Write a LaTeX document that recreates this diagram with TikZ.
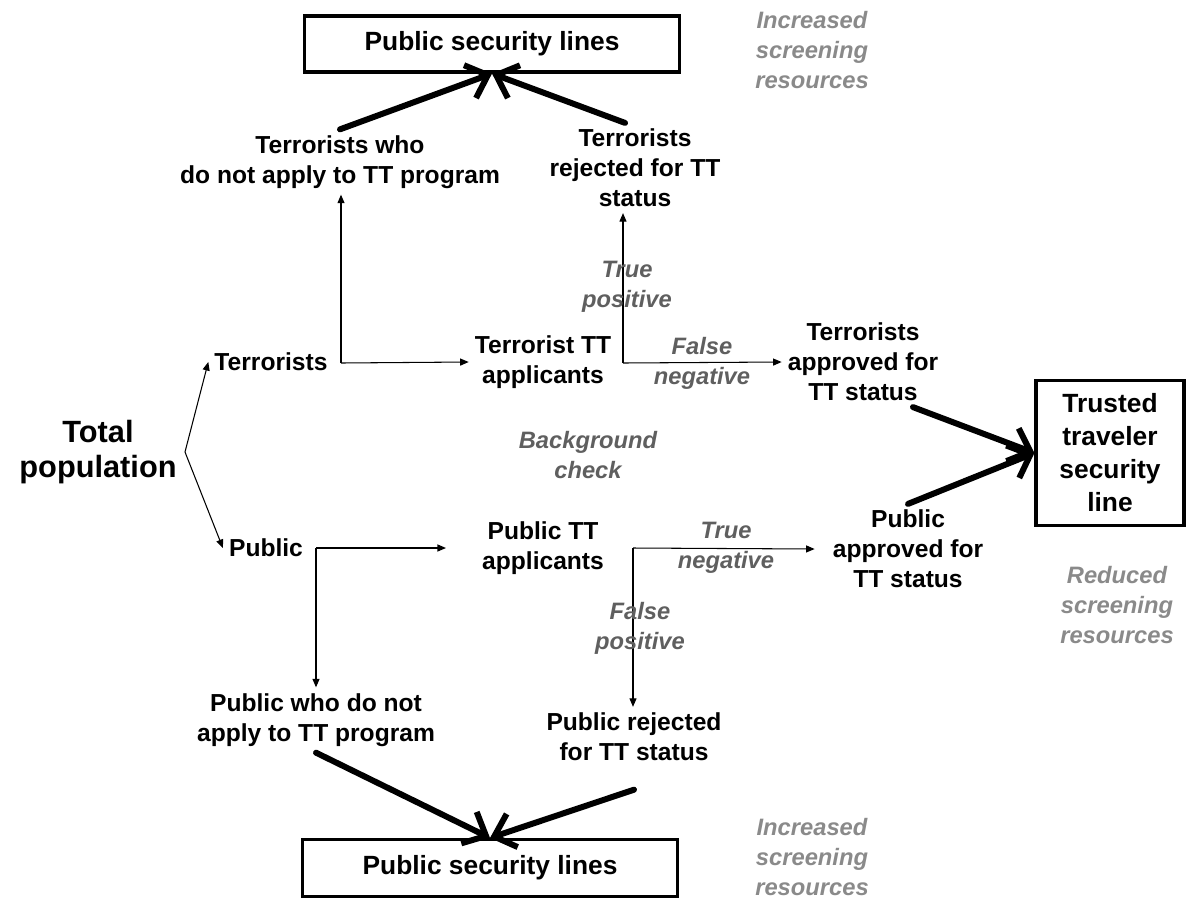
\documentclass[tikz,border=0pt]{standalone}
\usepackage{fontspec}
\setmainfont{Liberation Sans}
\usetikzlibrary{arrows.meta}
\usetikzlibrary{positioning}

\definecolor{outcomegray}{HTML}{5F5F5F}
\definecolor{resourcegray}{HTML}{8A8A8A}

\tikzset{
	lbl/.style={font=\fontsize{14}{17}\selectfont\bfseries, align=center},
	secbox/.style={draw, line width=1.8pt, font=\fontsize{15}{19}\selectfont\bfseries, align=center},
	outcome/.style={font=\fontsize{13.5}{17}\selectfont\bfseries\itshape, text=outcomegray, align=center},
	resource/.style={font=\fontsize{13.5}{17}\selectfont\bfseries\itshape, text=resourcegray, align=center},
	flow/.style={-{Triangle[length=1.7mm,width=1.4mm]}, line width=0.6pt},
	bigflow/.style={-{Straight Barb[length=3.8mm,width=7mm]}, line width=3.4pt, line cap=round},
}

\begin{document}
\begin{tikzpicture}[x=0.02cm, y=-0.02cm]
	\useasboundingbox (0,0) rectangle (1186,900);
	% boxes
	\node[secbox, minimum width=7.5cm, minimum height=1.12cm] (topbox) at (492,44) {Public security lines};
	\node[secbox, minimum width=7.5cm, minimum height=1.14cm] (botbox) at (490,868) {Public security lines};
	\node[secbox, minimum width=2.96cm, minimum height=2.9cm, font=\fontsize{15}{18.8}\selectfont\bfseries] (trusted) at (1110,453) {Trusted\\traveler\\security\\line};
	% population
	\node[lbl, font=\fontsize{17.5}{20}\selectfont\bfseries] (total) at (98,452) {Total\\population};
	\node[lbl] (terr) at (271,362) {Terrorists};
	\node[lbl] (pub) at (266,548) {Public};
	\coordinate (popfork) at (185,452);
	% terrorists
	\node[lbl] (tnoapp) at (340,162) {Terrorists who\\do not apply to TT program};
	\node[lbl] (tapp) at (543,362) {Terrorist TT\\applicants};
	\node[lbl] (trej) at (635,168) {Terrorists\\rejected for TT\\status};
	\node[lbl] (tappr) at (863,362) {Terrorists\\approved for\\TT status};
	\coordinate (tsplit) at (341,363);
	\coordinate (tfork) at (623,363);
	% public
	\node[lbl] (papp) at (543,548) {Public TT\\applicants};
	\node[lbl] (pnoapp) at (316,720) {Public who do not\\apply to TT program};
	\node[lbl] (prej) at (634,737) {Public rejected\\for TT status};
	\node[lbl] (pappr) at (908,549) {Public\\approved for\\TT status};
	\coordinate (psplit) at (316,548);
	\coordinate (pfork) at (633,548);
	% thin connectors
	\draw[flow] (popfork) -- (terr.west);
	\draw[flow] (popfork) -- (pub.west);
	\draw[flow] (tsplit) -- (tapp.west);
	\draw[flow] (tsplit) -- (tsplit |- tnoapp.south);
	\draw[flow] (tfork) -- (tfork |- trej.south);
	\draw[flow] (tfork) -- (tappr.west);
	\draw[flow] (psplit) -- ([xshift=-0.6cm]papp.west);
	\draw[flow] (psplit) -- (pnoapp.north);
	\draw[flow] (pfork) -- ([xshift=-0.24cm]pappr.west);
	\draw[flow] (pfork) -- (pfork |- prej.north);
	% outcome labels
	\node[outcome] (truepos) at (627,287) {True\\positive};
	\node[outcome] (falseneg) at (702,363) {False\\negative};
	\node[outcome] (bgcheck) at (588,455) {Background\\check};
	\node[outcome] (trueneg) at (726,548) {True\\negative};
	\node[outcome] (falsepos) at (640,628) {False\\positive};
	% resources
	\node[resource] (incrtop) at (812,50) {Increased\\screening\\resources};
	\node[resource] (reduced) at (1117,605) {Reduced\\screening\\resources};
	\node[resource] (incrbot) at (812,857) {Increased\\screening\\resources};
	% thick connectors
	\draw[bigflow] (tnoapp.north) -- (topbox.south);
	\draw[bigflow] ([xshift=-0.2cm]trej.north) -- (topbox.south);
	\draw[bigflow] ([xshift=1cm]tappr.south) -- (trusted.west);
	\draw[bigflow] (pappr.north) -- (trusted.west);
	\draw[bigflow] (pnoapp.south) -- (botbox.north);
	\draw[bigflow] ([yshift=-0.45cm]prej.south) -- (botbox.north);
\end{tikzpicture}
\end{document}
